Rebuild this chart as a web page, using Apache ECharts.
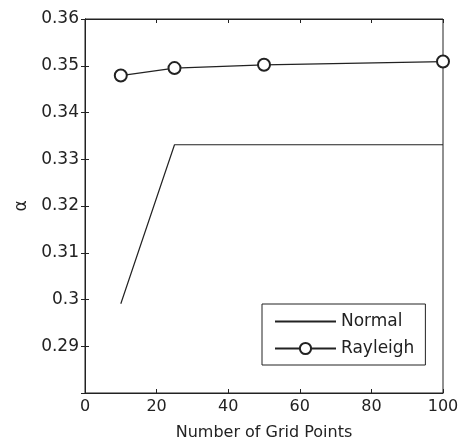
<!DOCTYPE html>
<html>
	<head>
		<meta charset="utf-8">
		<title>alpha vs grid points</title>
		<style type="text/css">
			* {
				margin: 0;
				padding: 0;
			}

			html,
			body {
				width: 460px;
				height: 443px;
				background: #fff;
			}

			#box1 {
				width: 460px;
				height: 443px;
			}
		</style>
	</head>
	<body>
		<div id="box1"></div>
		<script src="https://cdn.jsdelivr.net/npm/echarts@6/dist/echarts.min.js"></script>
		<script type="text/javascript">
			// data
			var gridpoints = [10, 25, 50, 100]
			var normalarr = [0.2991, 0.3331, 0.3331, 0.3331]
			var rayleigharr = [0.3479, 0.3495, 0.3502, 0.3509]
			var xticks = ['0', '20', '40', '60', '80', '100']
			var yticks = ['', '0.29', '0.3', '0.31', '0.32', '0.33', '0.34', '0.35', '0.36']

			function pairs(xs, ys) {
				let out = []
				for (let i = 0; i < xs.length; i++) {
					out.push([xs[i], ys[i]])
				}
				return out
			}

			var font = 'DejaVu Sans'
			var ink = '#222'

			window.onload = function() {
				var myChart1 = echarts.init(document.getElementById('box1'), null, { renderer: 'canvas' })
				var axisLine = { show: true, lineStyle: { color: ink, width: 1 } }
				var option1 = {
					animation: false,
					backgroundColor: '#fff',
					grid: {
						left: 85,
						right: 17,
						top: 19,
						bottom: 50,
						outerBoundsMode: 'none',
						containLabel: false,
						show: true,
						borderColor: ink,
						borderWidth: 1
					},
					legend: {
						orient: 'vertical',
						left: 262,
						top: 304,
						padding: [9, 11, 8, 12],
						itemWidth: 61,
						itemHeight: 14,
						itemGap: 10,
						borderColor: ink,
						borderWidth: 1,
						backgroundColor: '#fff',
						textStyle: { fontFamily: font, fontSize: 17, color: ink },
						data: [{ name: 'Normal', itemStyle: { opacity: 0 } }, 'Rayleigh']
					},
					xAxis: [{
						type: 'value',
						position: 'bottom',
						min: 0,
						max: 100,
						interval: 20,
						name: 'Number of Grid Points',
						nameLocation: 'middle',
						nameGap: 32,
						nameTextStyle: { fontFamily: font, fontSize: 16, color: ink },
						axisLine: axisLine,
						axisTick: { show: true, inside: true, length: 4, lineStyle: { color: ink } },
						axisLabel: {
							fontFamily: font, fontSize: 16, color: ink, margin: 6,
							formatter: function(v) { return xticks[Math.round(v / 20)] }
						},
						splitLine: { show: false }
					}, {
						type: 'value',
						position: 'top',
						min: 0,
						max: 100,
						interval: 20,
						axisLine: axisLine,
						axisTick: { show: true, inside: true, length: 4, lineStyle: { color: ink } },
						axisLabel: { show: false },
						splitLine: { show: false }
					}],
					yAxis: [{
						type: 'value',
						position: 'left',
						min: 0.28,
						max: 0.36,
						interval: 0.01,
						name: 'α',
						nameLocation: 'middle',
						nameGap: 53,
						nameTextStyle: { fontFamily: font, fontSize: 17, color: ink },
						axisLine: axisLine,
						axisTick: { show: true, inside: true, length: 4, lineStyle: { color: ink } },
						axisLabel: {
							fontFamily: font, fontSize: 17, color: ink, margin: 6,
							formatter: function(v) { return yticks[Math.round((v - 0.28) / 0.01)] }
						},
						splitLine: { show: false }
					}, {
						type: 'value',
						position: 'right',
						min: 0.28,
						max: 0.36,
						interval: 0.01,
						axisLine: axisLine,
						axisTick: { show: true, inside: true, length: 4, lineStyle: { color: ink } },
						axisLabel: { show: false },
						splitLine: { show: false }
					}],
					series: [{
						name: 'Normal',
						type: 'line',
						data: pairs(gridpoints, normalarr),
						symbol: 'none',
						clip: false,
						lineStyle: { color: ink, width: 1.2 },
						itemStyle: { color: ink }
					}, {
						name: 'Rayleigh',
						type: 'line',
						data: pairs(gridpoints, rayleigharr),
						symbol: 'emptyCircle',
						symbolSize: 12,
						clip: false,
						lineStyle: { color: ink, width: 1.2 },
						itemStyle: { color: ink, borderWidth: 1 }
					}]
				}
				myChart1.setOption(option1)
			}
		</script>
	</body>
</html>
